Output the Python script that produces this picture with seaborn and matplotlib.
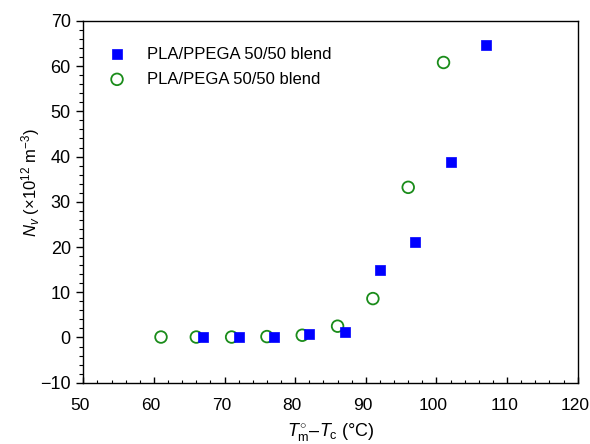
import matplotlib
matplotlib.use("Agg")
import matplotlib.pyplot as plt
import matplotlib.transforms as mtransforms
import seaborn as sns
import pandas as pd
from matplotlib.ticker import MultipleLocator

# Data
ppega_x = [67, 72, 77, 82, 87, 92, 97, 102, 107]
ppega_y = [0.0, 0.0, 0.0, 0.8, 1.3, 15.0, 21.2, 38.7, 64.6]
pega_x = [61, 66, 71, 76, 81, 86, 91, 96, 101]
pega_y = [0.1, 0.1, 0.1, 0.2, 0.5, 2.5, 8.6, 33.2, 60.8]
labels = ["PLA/PPEGA 50/50 blend", "PLA/PEGA 50/50 blend"]

sns.set_style("ticks")
plt.rcParams['font.family'] = ['Liberation Sans', 'DejaVu Sans']
plt.rcParams['mathtext.fontset'] = 'custom'
plt.rcParams['mathtext.rm'] = 'Liberation Sans'
plt.rcParams['mathtext.it'] = 'Liberation Sans:italic'
for k in ['text.color', 'axes.labelcolor', 'xtick.color', 'ytick.color', 'axes.edgecolor']:
    plt.rcParams[k] = 'black'

fig = plt.figure(figsize=(5.9, 4.44), dpi=100)
ax = fig.add_axes([0.1412, 0.138, 0.838, 0.815])

df1 = pd.DataFrame({"x": ppega_x, "y": ppega_y})
df2 = pd.DataFrame({"x": pega_x, "y": pega_y})

sns.scatterplot(data=df1, x="x", y="y", ax=ax, marker="s", s=55, color="#0000ff",
                edgecolor="#0000ff", linewidth=0.5, label=labels[0], zorder=3)
sns.scatterplot(data=df2, x="x", y="y", ax=ax, marker="o", s=70, facecolor="none",
                edgecolor="#1a8c1a", linewidth=1.3, label=labels[1], zorder=2)

ax.set_xlim(50, 120)
ax.set_ylim(-10, 70)
ax.xaxis.set_major_locator(MultipleLocator(10))
ax.xaxis.set_minor_locator(MultipleLocator(2))
ax.yaxis.set_major_locator(MultipleLocator(10))
ax.yaxis.set_minor_locator(MultipleLocator(2))
ax.tick_params(axis='y', which='major', length=5, width=1, labelsize=13, direction='out', pad=4)
ax.tick_params(axis='y', which='minor', length=3, width=0.8, direction='out')
ax.tick_params(axis='x', which='major', length=4, width=1, labelsize=12.5, direction='in', pad=11)
ax.tick_params(axis='x', which='minor', length=2.5, width=0.8, direction='in')
for sp in ax.spines.values():
    sp.set_visible(True)
    sp.set_color('black')
    sp.set_linewidth(1.0)

# slight left shift of x tick labels (as in the reference)
shift = mtransforms.ScaledTranslation(-3 / 100, 0, fig.dpi_scale_trans)
for lab in ax.get_xticklabels():
    lab.set_transform(lab.get_transform() + shift)

ax.set_xlabel(r"$T_\mathrm{m}^{\circ}$–$T_\mathrm{c}$ (°C)", fontsize=13, labelpad=5.5)
ax.set_ylabel(r"$N_v$ (×10$^{12}$ m$^{-3}$)", fontsize=12)
ax.yaxis.set_label_coords(-0.084, 0.554)

leg = ax.legend(loc="upper left", bbox_to_anchor=(0.021, 0.947), borderaxespad=0,
                frameon=False, fontsize=12, handletextpad=0.8, labelspacing=0.6)

fig.savefig("out.png", dpi=100)
